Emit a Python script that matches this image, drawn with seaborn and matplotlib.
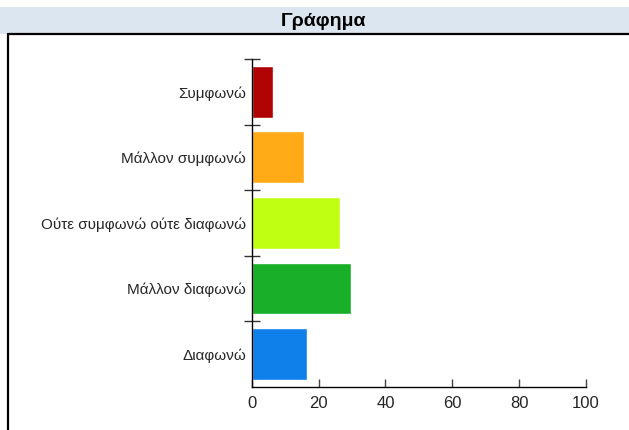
import matplotlib
matplotlib.use("Agg")
from matplotlib import pyplot as plt
from matplotlib.lines import Line2D
from matplotlib.patches import Rectangle
import numpy as np
import pandas as pd
import seaborn as sns

categories = [
    "Συμφωνώ",
    "Μάλλον συμφωνώ",
    "Ούτε συμφωνώ ούτε διαφωνώ",
    "Μάλλον διαφωνώ",
    "Διαφωνώ",
]
values = [6.5, 15.5, 26.5, 29.7, 16.6]
colors = ["#b00404", "#ffaa16", "#c0ff12", "#1aaf28", "#0f7fea"]
x_ticks = [0, 20, 40, 60, 80, 100]

sns.set_style("white")
plt.rcParams["font.family"] = ["Liberation Sans", "DejaVu Sans"]

df = pd.DataFrame({"label": categories, "value": values})

fig = plt.figure(figsize=(6.29, 4.30), dpi=100)

# title bar and the frame around the chart
fig.patches.append(
    Rectangle((0, 1 - 34 / 430), 1, 27 / 430, transform=fig.transFigure,
              facecolor="#dce6f0", edgecolor="none", zorder=0)
)
fig.text(323 / 629, 1 - 21 / 430, "Γράφημα", ha="center", va="center",
         fontsize=14, fontweight="bold", color="black")
fig.lines.append(Line2D([8 / 629, 8 / 629], [0, 1 - 34 / 430],
                        transform=fig.transFigure, color="black", lw=1.6))
fig.lines.append(Line2D([8 / 629, 1], [1 - 34 / 430, 1 - 34 / 430],
                        transform=fig.transFigure, color="black", lw=1.6))

ax = fig.add_axes([251.7 / 629, 1 - 386.7 / 430, (586 - 251.7) / 629, (386.7 - 59) / 430])
sns.barplot(data=df, x="value", y="label", hue="label", palette=colors,
            order=categories, hue_order=categories, dodge=False, legend=False,
            width=0.79, saturation=1, ax=ax)

ax.set_xlim(0, 100)
ax.set_ylim(len(categories) - 0.5, -0.5)
ax.set_xticks(x_ticks)
ax.set_xlabel("")
ax.set_ylabel("")
ax.set_facecolor("none")

ax.set_yticks(np.arange(-0.5, len(categories) - 1), minor=True)
ax.tick_params(axis="y", which="major", length=0, pad=4, labelsize=11)
ax.tick_params(axis="y", which="minor", direction="inout", length=12,
               width=1, color="#333333", left=True)
ax.tick_params(axis="x", direction="in", length=6, width=1, color="#444444",
               pad=7, labelsize=12, bottom=True)

for side in ["top", "right"]:
    ax.spines[side].set_visible(False)
for side in ["left", "bottom"]:
    ax.spines[side].set_color("black")
    ax.spines[side].set_linewidth(1)

fig.savefig("out.png", dpi=100)
plt.close(fig)
